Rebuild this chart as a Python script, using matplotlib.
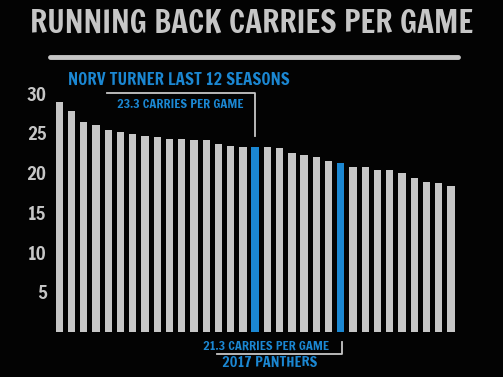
import matplotlib
matplotlib.use("Agg")
import matplotlib.pyplot as plt
from matplotlib import font_manager

# ---- data ----
values = [28.9, 27.8, 26.4, 26.0, 25.4, 25.1, 24.9, 24.6, 24.5, 24.3, 24.3,
          24.1, 24.1, 23.6, 23.4, 23.2, 23.3, 23.2, 23.1, 22.5, 22.2, 22.0,
          21.5, 21.3, 20.7, 20.7, 20.3, 20.3, 20.0, 19.3, 18.8, 18.7, 18.3]
highlight = [16, 23]  # Norv Turner avg, 2017 Panthers
yticks = [5, 10, 15, 20, 25, 30]
title = "RUNNING BACK CARRIES PER GAME"
turner_label = "NORV TURNER LAST 12 SEASONS"
turner_value = "23.3 CARRIES PER GAME"
panthers_value = "21.3 CARRIES PER GAME"
panthers_label = "2017 PANTHERS"

GRAY = "#c6c6c6"
BLUE = "#1b87d2"
BG = "#030303"

names = {f.name for f in font_manager.fontManager.ttflist}
FONT = "DejaVu Sans"
for cand in ["Francois One", "Fjalla One", "Anton"]:
    if cand in names:
        FONT = cand
        break

W, H = 503, 377
fig = plt.figure(figsize=(W / 100, H / 100), dpi=100, facecolor=BG)

def fx(px):
    return px / W

def fy(py):
    return 1 - py / H

ax = fig.add_axes([fx(52), fy(332), (460 - 52) / W, (332 - 93.3) / H])
ax.set_facecolor(BG)
colors = [BLUE if i in highlight else GRAY for i in range(len(values))]
ax.bar(range(len(values)), values, width=0.6, color=colors)
ax.set_xlim(-0.6, len(values) - 1 + 0.74)
ax.set_ylim(0, 30)
ax.set_xticks([])
ax.set_yticks(yticks)
ax.set_yticklabels([str(t) for t in yticks], color=GRAY, fontsize=13.5,
                   family=FONT)
ax.tick_params(axis="y", length=0, pad=4)
for s in ax.spines.values():
    s.set_visible(False)

renderer = fig.canvas.get_renderer()

def fit_text(x, y, s, width_px, size0, color, ha="left"):
    t = fig.text(fx(x), fy(y), s, color=color, fontsize=size0,
                 family=FONT, ha=ha, va="center")
    w = t.get_window_extent(renderer).width
    t.set_fontsize(size0 * width_px / w)
    return t

fit_text(251.5, 23, title, 445, 24, GRAY, ha="center")
fig.add_artist(plt.Line2D([fx(50), fx(458)], [fy(57), fy(57)], color=GRAY, lw=3.5,
                          solid_capstyle="round"))

fit_text(68, 80, turner_label, 222, 12, BLUE)
fit_text(117, 104, turner_value, 126, 9, BLUE)
fig.add_artist(plt.Line2D([fx(107), fx(255), fx(255)], [fy(93.3), fy(93.3), fy(136)],
                          color=GRAY, lw=1.3))

fit_text(203, 345.5, panthers_value, 126, 9, BLUE)
fit_text(222, 363, panthers_label, 96, 12, BLUE)
fig.add_artist(plt.Line2D([fx(217), fx(341.5), fx(341.5)], [fy(354), fy(354), fy(341.5)],
                          color=GRAY, lw=1.3))

fig.savefig("out.png", dpi=100, facecolor=BG)
